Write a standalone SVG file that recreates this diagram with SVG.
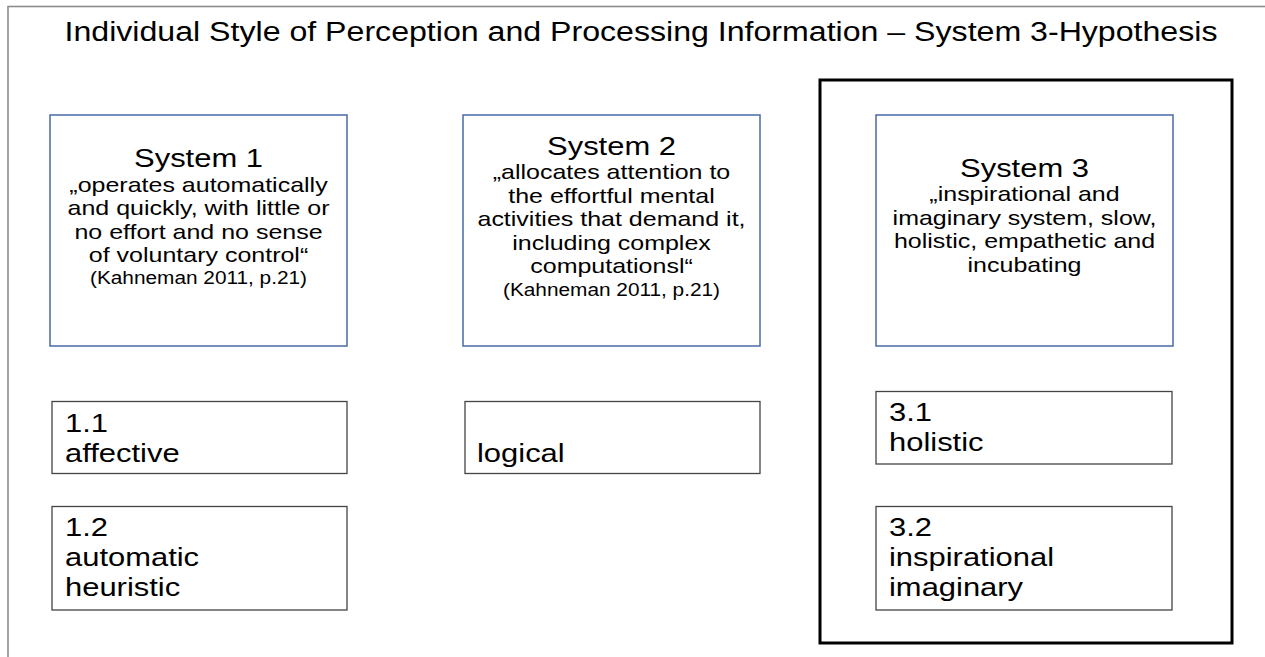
<svg xmlns="http://www.w3.org/2000/svg" width="1265" height="657" viewBox="0 0 1265 657">
  <style>
    text { font-family: "Liberation Sans", Arial, sans-serif; fill: #000; }
    .title { font-size: 27px; text-anchor: middle; }
    .head { font-size: 26px; text-anchor: middle; }
    .quote { font-size: 21px; text-anchor: middle; }
    .cite { font-size: 17.5px; text-anchor: middle; }
    .item { font-size: 26px; }
    .sys { fill: #fff; stroke: #4a6aa5; stroke-width: 1.5; }
    .box { fill: #fff; stroke: #444; stroke-width: 1.3; }
  </style>
  <rect width="1265" height="657" fill="#fff"/>
  <g id="frame">
    <rect x="8" y="6.5" width="1300" height="700" fill="none" stroke="#8c8c8c" stroke-width="1.6"/>
  </g>
  <g id="title">
    <text class="title" transform="translate(641 0) scale(1.19 1)" x="0" y="41">Individual Style of Perception and Processing Information – System 3-Hypothesis</text>
  </g>
  <g id="system3-frame">
    <rect x="820" y="80" width="412" height="563" fill="none" stroke="#000" stroke-width="3"/>
  </g>
  <g id="system1">
    <rect class="sys" x="50" y="115" width="297" height="231"/>
    <g transform="translate(198.5 0) scale(1.19 1)">
      <text class="head" x="0" y="167">System 1</text>
      <text class="quote" x="0" y="192">„operates automatically</text>
      <text class="quote" x="0" y="215">and quickly, with little or</text>
      <text class="quote" x="0" y="239">no effort and no sense</text>
      <text class="quote" x="0" y="262">of voluntary control“</text>
      <text class="cite" x="0" y="284">(Kahneman 2011, p.21)</text>
    </g>
  </g>
  <g id="system2">
    <rect class="sys" x="463" y="115" width="297" height="231"/>
    <g transform="translate(611.5 0) scale(1.19 1)">
      <text class="head" x="0" y="155">System 2</text>
      <text class="quote" x="0" y="179">„allocates attention to</text>
      <text class="quote" x="0" y="203">the effortful mental</text>
      <text class="quote" x="0" y="226">activities that demand it,</text>
      <text class="quote" x="0" y="250">including complex</text>
      <text class="quote" x="0" y="273">computationsl“</text>
      <text class="cite" x="0" y="296">(Kahneman 2011, p.21)</text>
    </g>
  </g>
  <g id="system3">
    <rect class="sys" x="876" y="115" width="297" height="231"/>
    <g transform="translate(1024.5 0) scale(1.19 1)">
      <text class="head" x="0" y="177">System 3</text>
      <text class="quote" x="0" y="201">„inspirational and</text>
      <text class="quote" x="0" y="225">imaginary system, slow,</text>
      <text class="quote" x="0" y="248">holistic, empathetic and</text>
      <text class="quote" x="0" y="272">incubating</text>
    </g>
  </g>
  <g id="item-1-1">
    <rect class="box" x="52" y="401.5" width="295" height="72"/>
    <g transform="translate(65 0) scale(1.19 1)">
      <text class="item" x="0" y="432">1.1</text>
      <text class="item" x="0" y="462">affective</text>
    </g>
  </g>
  <g id="item-1-2">
    <rect class="box" x="52" y="506.5" width="295" height="103.5"/>
    <g transform="translate(65 0) scale(1.19 1)">
      <text class="item" x="0" y="536">1.2</text>
      <text class="item" x="0" y="566">automatic</text>
      <text class="item" x="0" y="596">heuristic</text>
    </g>
  </g>
  <g id="item-logical">
    <rect class="box" x="465" y="401.5" width="295" height="72"/>
    <g transform="translate(477 0) scale(1.19 1)">
      <text class="item" x="0" y="462">logical</text>
    </g>
  </g>
  <g id="item-3-1">
    <rect class="box" x="876" y="391.5" width="296" height="72.5"/>
    <g transform="translate(889 0) scale(1.19 1)">
      <text class="item" x="0" y="421">3.1</text>
      <text class="item" x="0" y="451">holistic</text>
    </g>
  </g>
  <g id="item-3-2">
    <rect class="box" x="876" y="506.5" width="296" height="103.5"/>
    <g transform="translate(889 0) scale(1.19 1)">
      <text class="item" x="0" y="536">3.2</text>
      <text class="item" x="0" y="566">inspirational</text>
      <text class="item" x="0" y="596">imaginary</text>
    </g>
  </g>
  <g id="connectors"></g>
</svg>
